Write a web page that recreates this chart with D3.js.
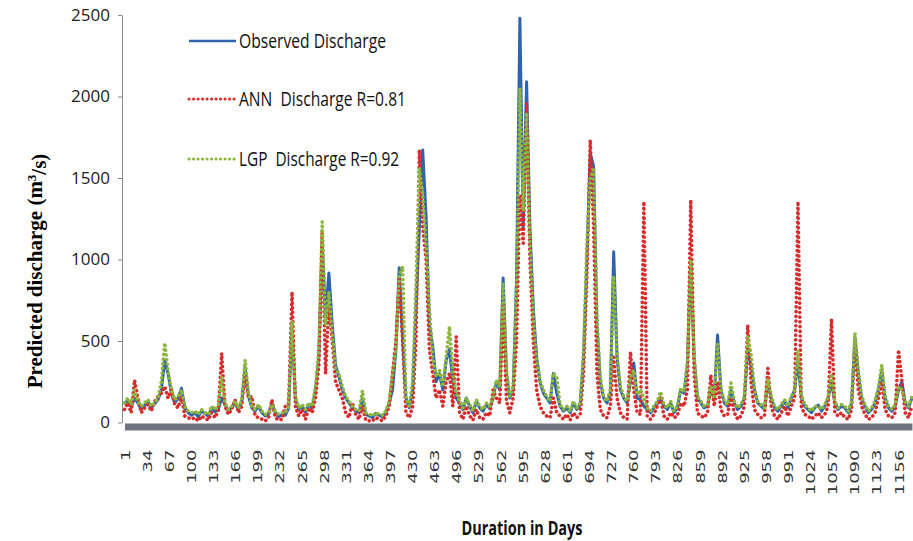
<!DOCTYPE html>
<html>
<head>
<meta charset="utf-8">
<script src="https://cdn.jsdelivr.net/npm/d3@7/dist/d3.min.js"></script>
<style>
  body { margin: 0; background: #fff; }
  svg { display: block; }
</style>
</head>
<body>
<div id="chart"></div>
<script>
// daily discharge, every 5th day (day 1, 6, 11 ... 1176)
var days = d3.range(1, 1177, 5);

var tickDays = [1, 34, 67, 100, 133, 166, 199, 232, 265, 298, 331, 364, 397, 430, 463, 496, 529, 562,
    595, 628, 661, 694, 727, 760, 793, 826, 859, 892, 925, 958, 991, 1024, 1057, 1090, 1123, 1156];

var yTicks = [0, 500, 1000, 1500, 2000, 2500];

var observed = [
    110, 140, 95, 150, 120, 80, 105, 130, 90, 115,
    140, 200, 380, 300, 180, 120, 150, 210, 90, 60,
    45, 60, 35, 70, 55, 40, 90, 65, 80, 150,
    110, 70, 95, 120, 80, 130, 340, 160, 90, 70,
    100, 60, 40, 55, 120, 60, 35, 50, 45, 90,
    600, 150, 80, 100, 65, 110, 90, 200, 400, 1100,
    650, 917, 600, 350, 280, 200, 150, 120, 90, 70,
    60, 150, 50, 40, 30, 55, 45, 35, 60, 120,
    200, 450, 950, 520, 150, 90, 200, 700, 1200, 1672,
    1263, 600, 465, 250, 300, 200, 380, 450, 250, 150,
    120, 80, 150, 100, 60, 130, 90, 70, 110, 85,
    150, 250, 200, 886, 300, 150, 200, 874, 2480, 1200,
    2091, 1200, 700, 400, 250, 180, 150, 120, 300, 180,
    100, 70, 90, 60, 120, 80, 110, 400, 1000, 1653,
    1570, 600, 250, 150, 120, 180, 1048, 400, 200, 150,
    120, 250, 365, 150, 140, 100, 80, 60, 90, 120,
    150, 100, 80, 120, 60, 90, 200, 180, 350, 1000,
    400, 150, 120, 90, 100, 200, 150, 537, 200, 120,
    100, 200, 120, 80, 100, 150, 450, 350, 200, 120,
    100, 80, 250, 150, 90, 70, 100, 130, 90, 150,
    200, 380, 150, 100, 80, 60, 90, 107, 70, 100,
    150, 250, 120, 80, 100, 90, 60, 120, 520, 300,
    150, 100, 60, 80, 120, 200, 320, 150, 90, 70,
    100, 200, 250, 120, 90, 150
];

var ann = [
    80, 120, 60, 260, 150, 60, 90, 110, 70, 130,
    160, 180, 220, 150, 200, 110, 90, 160, 40, 30,
    20, 30, 10, 40, 25, 15, 60, 30, 70, 425,
    100, 50, 80, 140, 60, 100, 300, 150, 160, 40,
    30, 20, 10, 30, 140, 30, 15, 20, 100, 120,
    800, 100, 40, 80, 20, 90, 60, 150, 350, 1180,
    300, 720, 500, 250, 200, 150, 60, 30, 120, 50,
    20, 100, 15, 10, 10, 30, 20, 10, 40, 100,
    300, 500, 880, 500, 60, 30, 100, 500, 1672, 1200,
    1000, 450, 300, 150, 200, 100, 250, 300, 100, 526,
    60, 20, 100, 40, 15, 80, 30, 20, 60, 40,
    200, 150, 120, 720, 130, 60, 150, 500, 1400, 1100,
    1960, 1000, 500, 200, 100, 60, 40, 30, 150, 60,
    40, 20, 50, 15, 60, 30, 50, 300, 900, 1733,
    1200, 300, 80, 40, 30, 100, 400, 150, 60, 30,
    20, 434, 200, 60, 50, 1355, 40, 20, 50, 100,
    150, 40, 20, 60, 30, 40, 120, 100, 200, 1365,
    300, 60, 40, 30, 60, 291, 100, 250, 80, 40,
    50, 150, 60, 20, 40, 100, 598, 250, 80, 50,
    30, 40, 332, 100, 40, 20, 60, 100, 40, 100,
    150, 1355, 100, 50, 40, 20, 40, 60, 30, 50,
    100, 635, 60, 40, 60, 30, 20, 80, 480, 200,
    100, 50, 20, 30, 60, 150, 250, 80, 40, 30,
    60, 445, 260, 60, 30, 100
];

var lgp = [
    120, 150, 110, 200, 130, 100, 120, 140, 100, 120,
    150, 250, 488, 320, 200, 140, 160, 200, 100, 70,
    60, 70, 50, 80, 60, 50, 100, 80, 100, 280,
    120, 80, 100, 130, 90, 140, 383, 180, 100, 80,
    110, 70, 50, 60, 110, 70, 50, 60, 60, 100,
    620, 160, 90, 110, 80, 120, 100, 220, 450, 1232,
    600, 800, 550, 330, 300, 220, 160, 130, 100, 80,
    70, 195, 60, 50, 40, 60, 50, 45, 70, 130,
    300, 450, 900, 956, 150, 100, 250, 850, 1560, 1400,
    1100, 700, 400, 280, 320, 220, 400, 588, 300, 180,
    130, 90, 150, 110, 70, 140, 100, 80, 120, 100,
    160, 260, 220, 850, 320, 160, 220, 800, 2050, 1300,
    1900, 1100, 650, 380, 260, 200, 160, 130, 303, 280,
    110, 80, 100, 70, 130, 90, 120, 445, 1100, 1500,
    1550, 650, 280, 160, 130, 200, 900, 420, 220, 160,
    130, 280, 320, 170, 200, 150, 90, 70, 100, 130,
    189, 110, 90, 130, 70, 100, 210, 190, 380, 1000,
    420, 160, 130, 100, 110, 220, 160, 480, 210, 130,
    110, 242, 130, 90, 110, 160, 526, 420, 210, 130,
    110, 90, 270, 160, 100, 80, 110, 140, 100, 160,
    200, 445, 170, 110, 90, 70, 100, 100, 80, 110,
    160, 300, 130, 90, 110, 100, 70, 130, 549, 320,
    160, 110, 70, 90, 130, 210, 353, 160, 100, 80,
    110, 220, 200, 130, 100, 160
];

var seriesNames = ["Observed Discharge", "ANN  Discharge R=0.81", "LGP  Discharge R=0.92"];
var seriesColors = ["#2e63b0", "#d92b2b", "#8cb63c"];

var W = 913, H = 541;

var svg = d3.select("#chart").append("svg")
    .attr("width", W)
    .attr("height", H);

var x = d3.scaleLinear()
    .domain([1, 1176])
    .range([124.5, 911.9]);

var y = d3.scaleLinear()
    .domain([0, 2500])
    .range([422.5, 15]);

// thick grey category axis along zero
var xAxis = svg.append("g")
    .attr("transform", "translate(0,426.5)")
    .call(d3.axisBottom(x).tickValues(tickDays).tickFormat(d3.format("d"))
        .tickSize(0).tickSizeOuter(0));

xAxis.select(".domain")
    .attr("stroke", "#717480")
    .attr("stroke-width", 7);

xAxis.selectAll(".tick text")
    .attr("x", 0)
    .attr("y", 0)
    .attr("dy", "0.35em")
    .attr("text-anchor", "end")
    .attr("transform", "translate(0,23) scale(0.73,1) rotate(-90)")
    .style("font-family", "'DejaVu Sans', sans-serif")
    .style("font-size", "18px")
    .attr("fill", "#333");

// value axis
var yAxis = svg.append("g")
    .attr("transform", "translate(122,0)")
    .call(d3.axisLeft(y).tickValues(yTicks).tickFormat(d3.format("d"))
        .tickSize(4).tickPadding(8).tickSizeOuter(0));

yAxis.select(".domain").attr("stroke", "#8a8a8a");
yAxis.selectAll(".tick line").attr("stroke", "#8a8a8a");
yAxis.selectAll(".tick text")
    .style("font-family", "'Open Sans', sans-serif")
    .style("font-size", "17px")
    .attr("fill", "#222");

var line = d3.line()
    .x(function(d, i) { return x(days[i]); })
    .y(function(d) { return y(d); });

var dash = [null, "0.1 4.6", "0.1 4.6"];

[observed, ann, lgp].forEach(function(vals, s) {
    svg.append("path")
        .datum(vals)
        .attr("fill", "none")
        .attr("stroke", seriesColors[s])
        .attr("stroke-width", s === 0 ? 3 : 3.6)
        .attr("stroke-linecap", s === 0 ? "butt" : "round")
        .attr("stroke-linejoin", "round")
        .attr("stroke-dasharray", dash[s])
        .attr("d", line);
});

// legend
var legendY = [41, 99, 159];
var legendLen = [147, 167, 160];
var legend = svg.append("g");

seriesNames.forEach(function(name, s) {
    legend.append("line")
        .attr("x1", 189)
        .attr("x2", 236)
        .attr("y1", legendY[s])
        .attr("y2", legendY[s])
        .attr("stroke", seriesColors[s])
        .attr("stroke-width", s === 0 ? 2.6 : 3)
        .attr("stroke-linecap", s === 0 ? "butt" : "round")
        .attr("stroke-dasharray", dash[s] ? "0.1 4.4" : null);
    legend.append("text")
        .attr("x", 239)
        .attr("y", legendY[s] + 7)
        .attr("textLength", legendLen[s])
        .attr("lengthAdjust", "spacingAndGlyphs")
        .style("white-space", "pre")
        .style("font-family", "'Open Sans', sans-serif")
        .style("font-size", "20px")
        .attr("fill", "#111")
        .text(name);
});

// axis titles
var yTitle = svg.append("text")
    .attr("transform", "translate(42,271) rotate(-90)")
    .attr("text-anchor", "middle")
    .style("font-family", "'Liberation Serif', 'Times New Roman', serif")
    .style("font-weight", "bold")
    .style("font-size", "21px")
    .attr("fill", "#000");
yTitle.append("tspan").text("Predicted discharge (m");
yTitle.append("tspan").attr("dy", "-0.45em").style("font-size", "13px").text("3");
yTitle.append("tspan").attr("dy", "0.45em").text("/s)");

svg.append("text")
    .attr("x", 522)
    .attr("y", 535)
    .attr("text-anchor", "middle")
    .attr("textLength", 121)
    .attr("lengthAdjust", "spacingAndGlyphs")
    .style("font-family", "'Open Sans', sans-serif")
    .style("font-weight", "bold")
    .style("font-size", "20px")
    .attr("fill", "#111")
    .text("Duration in Days");
</script>
</body>
</html>
